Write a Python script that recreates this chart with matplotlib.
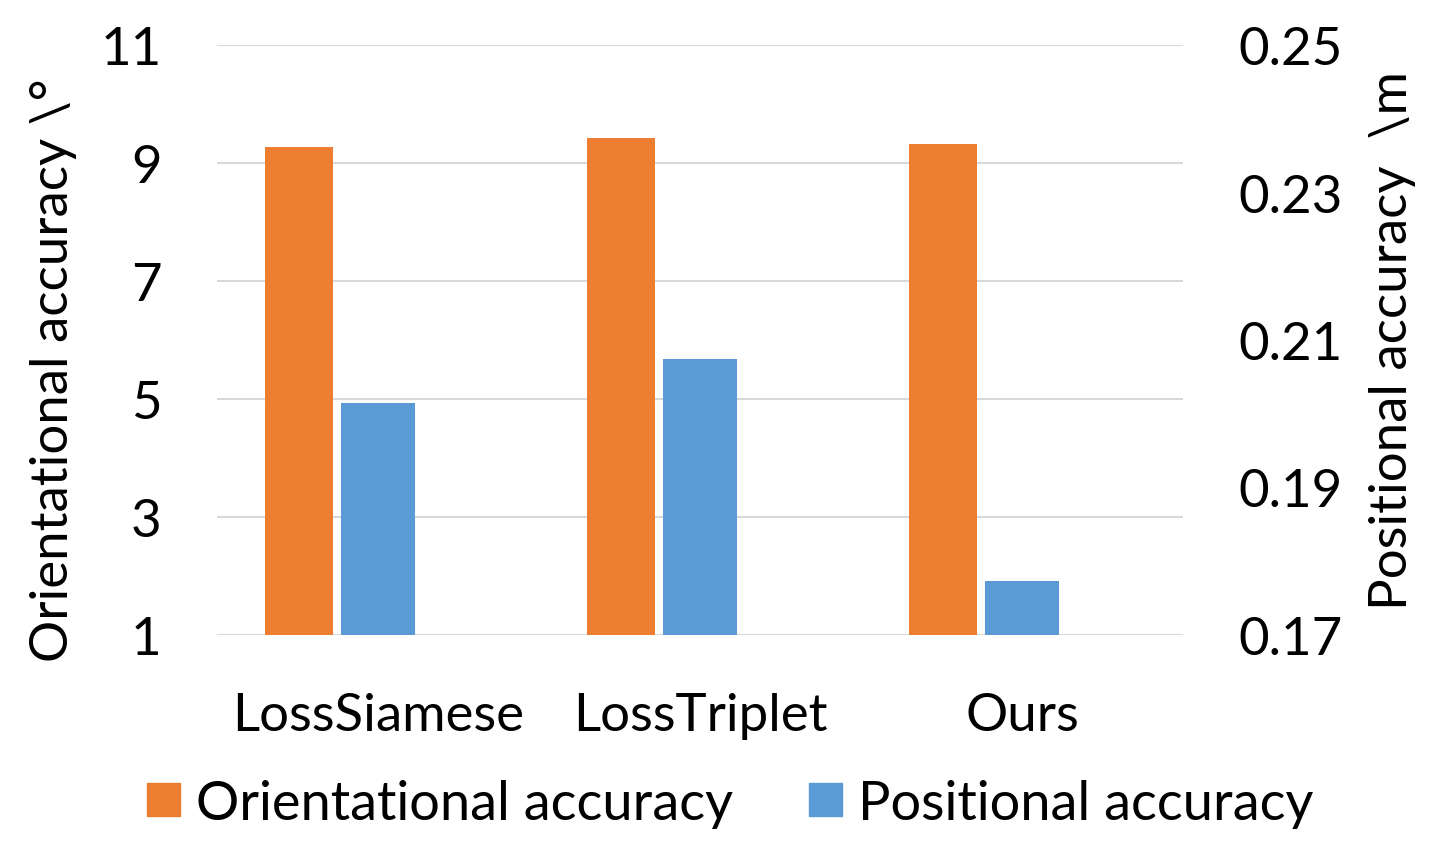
import matplotlib
matplotlib.use("Agg")
import matplotlib.pyplot as plt
from matplotlib.patches import Patch

methods = ["LossSiamese", "LossTriplet", "Ours"]
orientational = [9.28, 9.43, 9.33]       # degrees, left axis
positional = [0.2015, 0.2074, 0.1773]    # metres, right axis

left_ticks = [1, 3, 5, 7, 9, 11]
right_ticks = [0.17, 0.19, 0.21, 0.23, 0.25]

ORANGE = "#ED7D31"
BLUE = "#5B9BD5"
GRID = "#D9D9D9"
FS = 38

plt.rcParams["font.family"] = ["Lato", "DejaVu Sans"]

fig = plt.figure(figsize=(14.44, 8.54), dpi=100)
ax = fig.add_axes([0.1503, 0.2553, 0.669, 0.6908])
ax2 = ax.twinx()

x = list(range(len(methods)))
# orange bars on the primary axis, blue bars on the secondary axis
ax.bar([i + 0.149 for i in x], orientational, width=0.211, bottom=0,
       align="edge", color=ORANGE, zorder=3)
ax2.bar([i + 0.385 for i in x], positional, width=0.230,
        align="edge", color=BLUE, zorder=3)

ax.set_xlim(0, len(methods))
ax.set_ylim(1, 11)
ax2.set_ylim(0.17, 0.25)

ax.set_yticks(left_ticks)
ax.set_yticklabels([str(t) for t in left_ticks])
ax2.set_yticks(right_ticks)
ax2.set_yticklabels([f"{t:.2f}" for t in right_ticks])

for t in left_ticks:
    ax.axhline(t, color=GRID, linewidth=1.5, zorder=1)

ax.set_xticks([i + 0.5 for i in x])
ax.set_xticklabels(methods)

for a in (ax, ax2):
    for s in a.spines.values():
        s.set_visible(False)
    a.tick_params(length=0, labelsize=FS)
ax.tick_params(axis="y", pad=40)
ax2.tick_params(axis="y", pad=40)
ax.tick_params(axis="x", pad=41)

ax.set_ylabel("Orientational accuracy \\°", fontsize=FS)
ax.yaxis.set_label_coords(-0.145, 0.451)
ax2.set_ylabel("Positional accuracy  \\m", fontsize=FS, rotation=90, labelpad=19)

handles = [Patch(color=ORANGE, label="Orientational accuracy"),
           Patch(color=BLUE, label="Positional accuracy")]
fig.legend(handles=handles, loc="center", bbox_to_anchor=(0.5055, 0.058), ncol=2,
           frameon=False, fontsize=39, handlelength=0.61, handleheight=0.555,
           handletextpad=0.3, columnspacing=1.4)

fig.savefig("out.png", dpi=100, facecolor="white")
